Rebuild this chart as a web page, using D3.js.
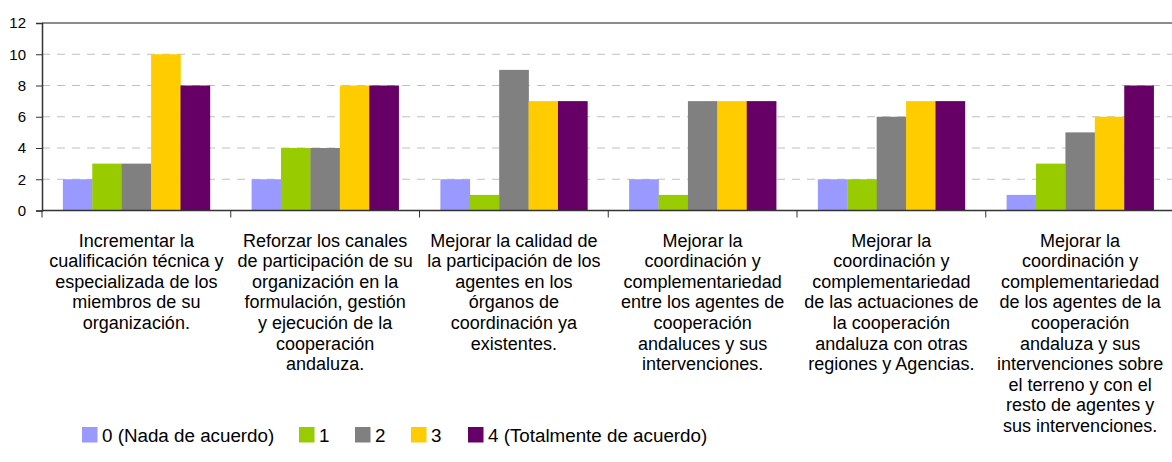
<!DOCTYPE html>
<html>
<head>
<meta charset="utf-8">
<script src="https://cdn.jsdelivr.net/npm/d3@7"></script>
<style>
  body { margin: 0; background: #fff; }
  svg { display: block; font-family: "Liberation Sans", Arial, sans-serif; }
  .cat-label { font-size: 18px; fill: #000; }
  .tick-label { font-size: 15px; fill: #000; }
  .legend-text { font-size: 18.8px; fill: #000; }
</style>
</head>
<body>
<svg id="chart" width="1172" height="462"></svg>
<script>
"use strict";

// Categories (line breaks as in the original chart)
var categories = [
	"Incrementar la\ncualificación técnica y\nespecializada de los\nmiembros de su\norganización.",
	"Reforzar los canales\nde participación de su\norganización en la\nformulación, gestión\ny ejecución de la\ncooperación\nandaluza.",
	"Mejorar la calidad de\nla participación de los\nagentes en los\nórganos de\ncoordinación ya\nexistentes.",
	"Mejorar la\ncoordinación y\ncomplementariedad\nentre los agentes de\ncooperación\nandaluces y sus\nintervenciones.",
	"Mejorar la\ncoordinación y\ncomplementariedad\nde las actuaciones de\nla cooperación\nandaluza con otras\nregiones y Agencias.",
	"Mejorar la\ncoordinación y\ncomplementariedad\nde los agentes de la\ncooperación\nandaluza y sus\nintervenciones sobre\nel terreno y con el\nresto de agentes y\nsus intervenciones."
];

var seriesNames = ["0 (Nada de acuerdo)", "1", "2", "3", "4 (Totalmente de acuerdo)"];
var seriesColors = ["#9999FF", "#99CC00", "#808080", "#FFCC00", "#660066"];

// One array per series, one value per category
var s0 = [2, 2, 2, 2, 2, 1];
var s1 = [3, 4, 1, 1, 2, 3];
var s2 = [3, 4, 9, 7, 6, 5];
var s3 = [10, 8, 7, 7, 7, 6];
var s4 = [8, 8, 7, 7, 7, 8];
var seriesValues = [s0, s1, s2, s3, s4];

var yTicks = [0, 2, 4, 6, 8, 10, 12];

var svg = d3.select("#chart");

var plot = { left: 42, right: 1174.5, top: 23, bottom: 210.5 };

var x = d3.scaleBand().domain(d3.range(categories.length))
	.range([plot.left, plot.right]).paddingInner(0).paddingOuter(0);

var xs = d3.scaleBand().domain(d3.range(seriesNames.length))
	.range([0, x.bandwidth()]).paddingInner(0).paddingOuter(0.71);

var y = d3.scaleLinear().domain([0, 12]).range([plot.bottom, plot.top]);

// Gridlines (dashed)
svg.append("g").selectAll("line")
	.data(yTicks.filter(function(d) { return d > 0 && d < 12; }))
	.join("line")
	.attr("x1", plot.left).attr("x2", 1172)
	.attr("y1", function(d) { return y(d); }).attr("y2", function(d) { return y(d); })
	.attr("stroke", "#c0c0c0").attr("stroke-width", 1)
	.attr("stroke-dasharray", "8,7");

// Top border line
svg.append("line")
	.attr("x1", plot.left).attr("x2", 1172)
	.attr("y1", y(12)).attr("y2", y(12))
	.attr("stroke", "#8c8c8c").attr("stroke-width", 2);

// Bars
var groups = svg.append("g").selectAll("g")
	.data(categories)
	.join("g")
	.attr("transform", function(d, i) { return "translate(" + x(i) + ",0)"; });

groups.selectAll("rect")
	.data(function(d, i) { return seriesValues.map(function(s, k) { return { k: k, v: s[i] }; }); })
	.join("rect")
	.attr("x", function(d) { return xs(d.k); })
	.attr("width", xs.bandwidth() + 0.3)
	.attr("y", function(d) { return y(d.v); })
	.attr("height", function(d) { return y(0) - y(d.v); })
	.attr("fill", function(d) { return seriesColors[d.k]; });

// Y axis
var yAxis = svg.append("g")
	.attr("transform", "translate(" + plot.left + ",0)")
	.call(d3.axisLeft(y).tickValues(yTicks).tickSize(6).tickPadding(10).tickFormat(d3.format("d")));
yAxis.select(".domain").attr("stroke", "#333").attr("stroke-width", 1.5);
yAxis.selectAll(".tick line").attr("stroke", "#333");
yAxis.selectAll(".tick text").attr("class", "tick-label").attr("font-size", null).attr("font-family", null);

// X baseline and category ticks
svg.append("line")
	.attr("x1", plot.left).attr("x2", 1172)
	.attr("y1", y(0)).attr("y2", y(0))
	.attr("stroke", "#333").attr("stroke-width", 1.5);

svg.append("g").selectAll("line")
	.data(d3.range(categories.length + 1))
	.join("line")
	.attr("x1", function(i) { return plot.left + i * x.step(); })
	.attr("x2", function(i) { return plot.left + i * x.step(); })
	.attr("y1", y(0)).attr("y2", y(0) + 7)
	.attr("stroke", "#333").attr("stroke-width", 1);

// Category labels
var lineH = 20.6, labelY = 246.5;
svg.append("g").selectAll("text")
	.data(categories)
	.join("text")
	.attr("class", "cat-label")
	.attr("text-anchor", "middle")
	.each(function(d, i) {
		var t = d3.select(this);
		d.split("\n").forEach(function(line, j) {
			t.append("tspan")
				.attr("x", x(i) + x.bandwidth() / 2)
				.attr("y", labelY + j * lineH)
				.text(line);
		});
	});

// Legend
var legendX = [82, 299, 355, 411, 468];
var legend = svg.append("g").selectAll("g")
	.data(seriesNames)
	.join("g")
	.attr("transform", function(d, i) { return "translate(" + legendX[i] + ",427)"; });

legend.append("rect")
	.attr("width", 15.5).attr("height", 15.5)
	.attr("fill", function(d, i) { return seriesColors[i]; });

legend.append("text")
	.attr("class", "legend-text")
	.attr("x", 20).attr("y", 15)
	.text(function(d) { return d; });
</script>
</body>
</html>
